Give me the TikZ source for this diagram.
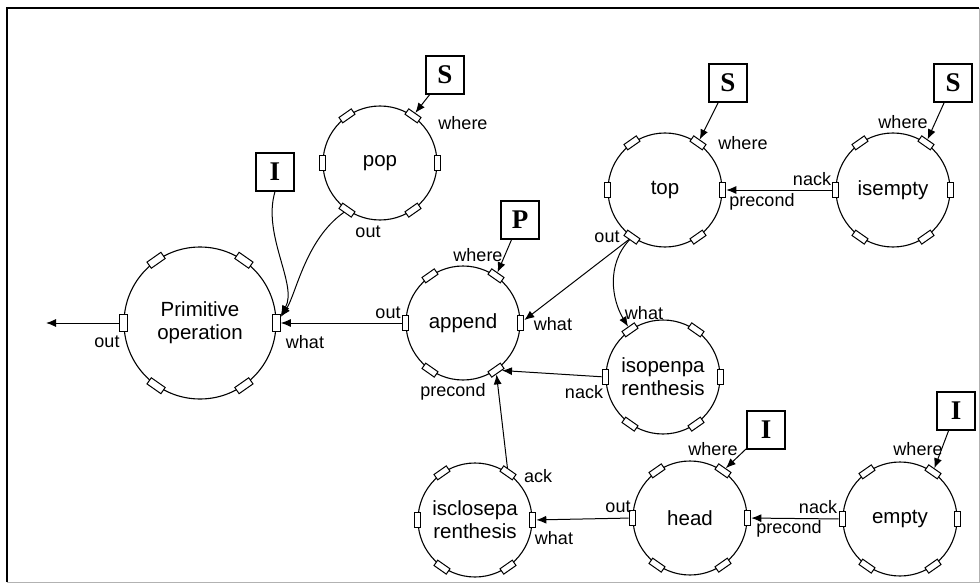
\documentclass[tikz,border=0pt]{standalone}
\usepackage{fontspec}
\setmainfont{Liberation Sans}
\newfontfamily\boxfont{Liberation Serif}
\usetikzlibrary{arrows.meta}
% six little ports round a process circle, named <circle>-<angle>
\newcommand\procports[2][]{%
  \foreach \a in {0,55,125,180,235,305}{\node[port,#1,rotate=\a] (#2-\a) at (#2.\a) {};}}
\begin{document}
\begin{tikzpicture}[x=1pt,y=-1pt,
  proc/.style={circle,draw,line width=1.1pt,inner sep=0pt,minimum size=114pt,
    font=\fontsize{20.5}{23}\selectfont,align=center},
  port/.style={rectangle,draw,fill=white,line width=1pt,minimum width=6.5pt,
    minimum height=15pt,inner sep=0pt},
  bigport/.style={minimum width=7.5pt,minimum height=17pt},
  sbox/.style={rectangle,draw,line width=1.2pt,minimum size=38pt,inner sep=0pt,
    font=\boxfont\bfseries\fontsize{27}{27}\selectfont},
  lbl/.style={font=\fontsize{18}{19}\selectfont,inner sep=0pt},
  conn/.style={line width=1pt,-{Latex[length=10pt,width=8pt]}}]
\useasboundingbox (0,0) rectangle (980,583);
% frame
\draw[line width=1.4pt] (7,582) -- (7,8) -- (979,8);
\draw[line width=0.8pt,black!30] (979,8) -- (979,582) -- (7,582);

% processes
\node[proc,minimum size=152pt] (prim) at (200,323) {Primitive\\operation};
\node[proc] (pop)  at (380,163) {pop};
\node[proc] (app)  at (463,323) {append};
\node[proc] (top)  at (665,190) {top};
\node[proc] (ise)  at (893,190) {isempty};
\node[proc] (iso)  at (663,377) {isopenpa\\renthesis};
\node[proc] (isc)  at (475,520) {isclosepa\\renthesis};
\node[proc] (head) at (690,518) {head};
\node[proc] (emp)  at (900,519) {empty};
\procports[bigport]{prim}
\foreach \p in {pop,app,top,ise,iso,isc,head,emp}{\procports{\p}}

% typed sources
\node[sbox] (S1) at (445,75)  {S};
\node[sbox] (I1) at (275,172) {I};
\node[sbox] (S2) at (728,83)  {S};
\node[sbox] (S3) at (953,83)  {S};
\node[sbox] (P1) at (520,220) {P};
\node[sbox] (I2) at (766,430) {I};
\node[sbox] (I3) at (956,411) {I};
\coordinate (outend) at (46,323);

% connections
\draw[conn] (S1) -- (pop-55);
\draw[conn] (I1.south) .. controls (262,235) and (298,285) .. (prim-0);
\draw[conn] (pop-235) .. controls (305,240) and (296,295) .. (prim-0);
\draw[conn] (app-180) -- (prim-0);
\draw[conn] (prim-180) -- (outend);
\draw[conn] (P1) -- (app-55);
\draw[conn] (top-235) -- (app-0);
\draw[conn] (top-235) .. controls (606,265) and (612,300) .. (iso-125);
\draw[conn] (iso-180) -- (app-305);
\draw[conn] (isc-55) -- (app-305);
\draw[conn] (head-180) -- (isc-0);
\draw[conn] (I2) -- (head-55);
\draw[conn] (emp-180) -- (head-0);
\draw[conn] (I3) -- (emp-55);
\draw[conn] (ise-180) -- (top-0);
\draw[conn] (S2) -- (top-55);
\draw[conn] (S3) -- (ise-55);

% port labels
\node[lbl] (l1)  at (463,123) {where};
\node[lbl] (l2)  at (368,232) {out};
\node[lbl] (l3)  at (107,342) {out};
\node[lbl] (l4)  at (305,342) {what};
\node[lbl] (l5)  at (388,313) {out};
\node[lbl] (l6)  at (478,255) {where};
\node[lbl] (l7)  at (553,324) {what};
\node[lbl] (l8)  at (453,392) {precond};
\node[lbl] (l9)  at (607,237) {out};
\node[lbl] (l10) at (743,143) {where};
\node[lbl] (l11) at (762,202) {precond};
\node[lbl] (l12) at (812,179) {nack};
\node[lbl] (l13) at (903,122) {where};
\node[lbl] (l14) at (644,313) {what};
\node[lbl] (l15) at (584,392) {nack};
\node[lbl] (l16) at (538,476) {ack};
\node[lbl] (l17) at (554,538) {what};
\node[lbl] (l18) at (618,507) {out};
\node[lbl] (l19) at (713,449) {where};
\node[lbl] (l20) at (789,529) {precond};
\node[lbl] (l21) at (818,507) {nack};
\node[lbl] (l22) at (918,449) {where};
\end{tikzpicture}
\end{document}
